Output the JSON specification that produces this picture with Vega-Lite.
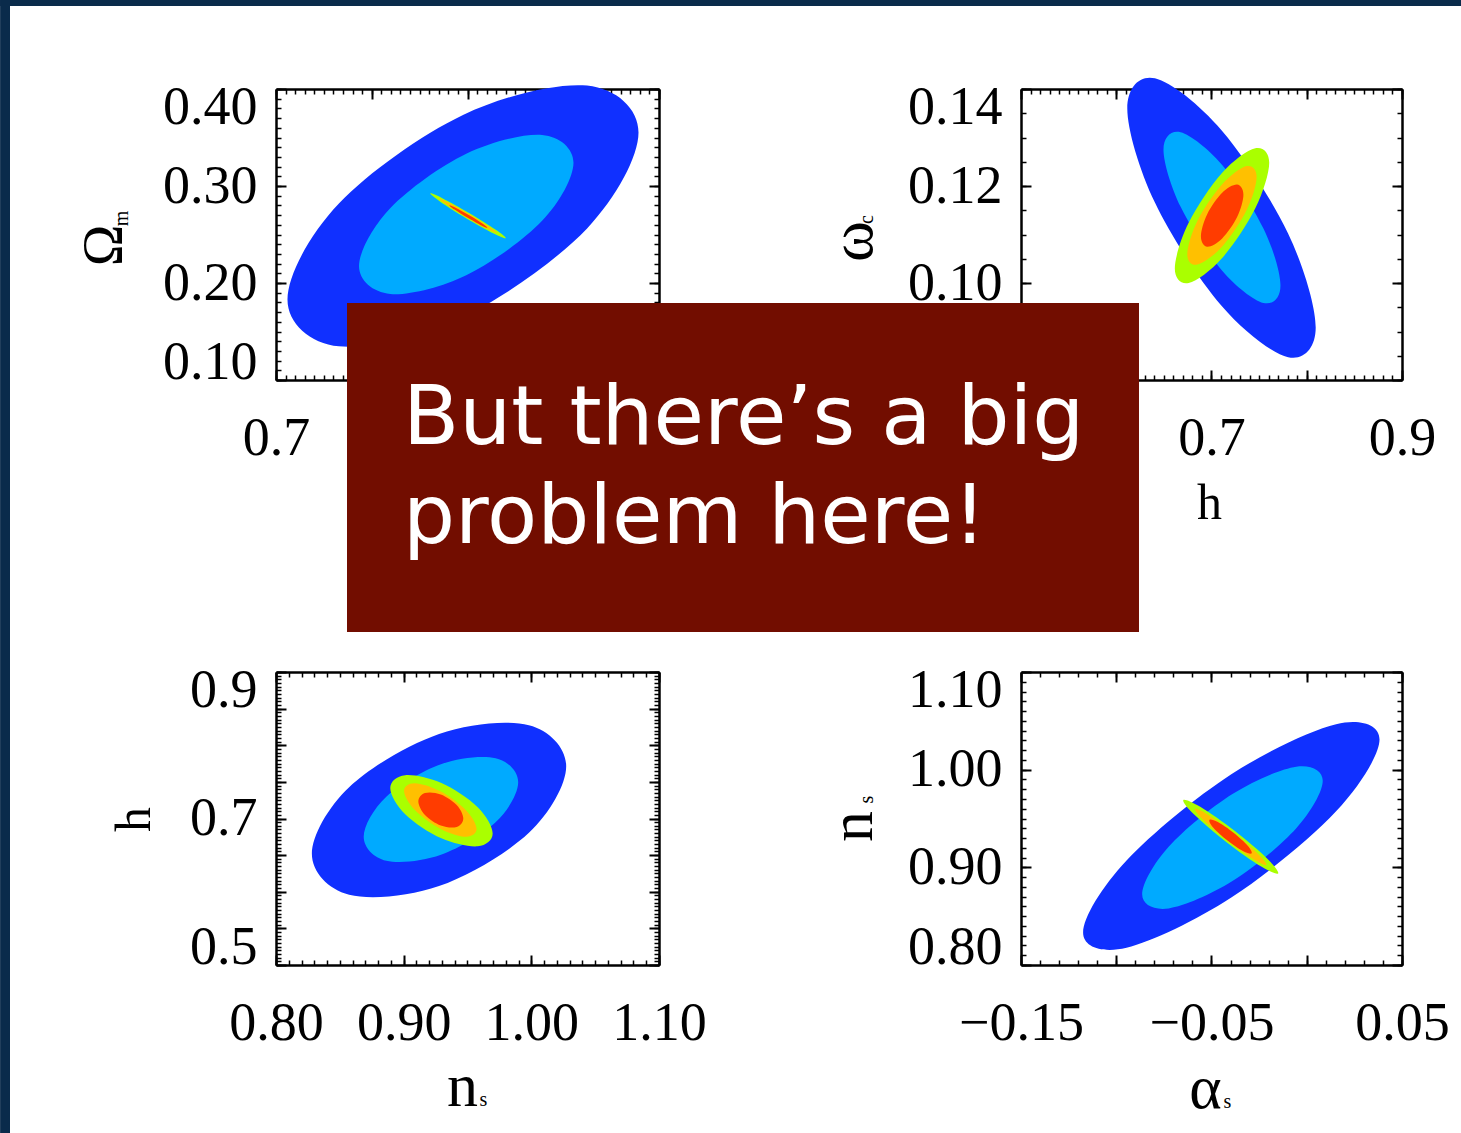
{
  "$schema": "https://vega.github.io/schema/vega-lite/v6.json",
  "padding": 0,
  "background": "white",
  "config": {
    "view": {"stroke": null},
    "axis": {
      "grid": false,
      "labelFont": "Liberation Serif",
      "labelFontSize": 54,
      "labelColor": "#000",
      "labelOverlap": false,
      "labelBound": false,
      "tickColor": "#000",
      "domainColor": "#000",
      "domainWidth": 2.5,
      "titleFont": "Liberation Serif",
      "titleColor": "#000",
      "titleFontWeight": "normal",
      "titlePadding": 0
    }
  },
  "datasets": {
    "tl": [
      {"level":"a","i":0,"x":1.0786,"y":0.3551},{"level":"a","i":1,"x":1.0249,"y":0.4035},{"level":"a","i":2,"x":0.8953,"y":0.3732},{"level":"a","i":3,"x":0.7657,"y":0.2819},
      {"level":"a","i":4,"x":0.7120,"y":0.1831},{"level":"a","i":5,"x":0.7657,"y":0.1347},{"level":"a","i":6,"x":0.8953,"y":0.1650},{"level":"a","i":7,"x":1.0249,"y":0.2563},
      {"level":"b","i":0,"x":1.0107,"y":0.3240},{"level":"b","i":1,"x":0.9779,"y":0.3527},{"level":"b","i":2,"x":0.8987,"y":0.3333},{"level":"b","i":3,"x":0.8195,"y":0.2773},
      {"level":"b","i":4,"x":0.7867,"y":0.2174},{"level":"b","i":5,"x":0.8195,"y":0.1887},{"level":"b","i":6,"x":0.8987,"y":0.2081},{"level":"b","i":7,"x":0.9779,"y":0.2641},
      {"level":"c","i":0,"x":0.9400,"y":0.2462},{"level":"c","i":1,"x":0.9273,"y":0.2511},{"level":"c","i":2,"x":0.8989,"y":0.2666},{"level":"c","i":3,"x":0.8715,"y":0.2838},
      {"level":"c","i":4,"x":0.8610,"y":0.2924},{"level":"c","i":5,"x":0.8737,"y":0.2875},{"level":"c","i":6,"x":0.9021,"y":0.2720},{"level":"c","i":7,"x":0.9296,"y":0.2548},
      {"level":"d","i":0,"x":0.9310,"y":0.2515},{"level":"d","i":1,"x":0.9214,"y":0.2554},{"level":"d","i":2,"x":0.8994,"y":0.2675},{"level":"d","i":3,"x":0.8782,"y":0.2807},
      {"level":"d","i":4,"x":0.8700,"y":0.2871},{"level":"d","i":5,"x":0.8797,"y":0.2832},{"level":"d","i":6,"x":0.9016,"y":0.2711},{"level":"d","i":7,"x":0.9228,"y":0.2579},
      {"level":"e","i":0,"x":0.9208,"y":0.2570},{"level":"e","i":1,"x":0.9144,"y":0.2594},{"level":"e","i":2,"x":0.9002,"y":0.2672},{"level":"e","i":3,"x":0.8865,"y":0.2757},
      {"level":"e","i":4,"x":0.8812,"y":0.2800},{"level":"e","i":5,"x":0.8876,"y":0.2776},{"level":"e","i":6,"x":0.9018,"y":0.2698},{"level":"e","i":7,"x":0.9155,"y":0.2613}
    ],
    "tr": [
      {"level":"a","i":0,"x":0.8094,"y":0.0908},{"level":"a","i":1,"x":0.7804,"y":0.1102},{"level":"a","i":2,"x":0.7105,"y":0.1315},{"level":"a","i":3,"x":0.6406,"y":0.1422},
      {"level":"a","i":4,"x":0.6116,"y":0.1360},{"level":"a","i":5,"x":0.6406,"y":0.1166},{"level":"a","i":6,"x":0.7105,"y":0.0953},{"level":"a","i":7,"x":0.7804,"y":0.0847},
      {"level":"b","i":0,"x":0.7724,"y":0.0995},{"level":"b","i":1,"x":0.7544,"y":0.1113},{"level":"b","i":2,"x":0.7110,"y":0.1244},{"level":"b","i":3,"x":0.6676,"y":0.1311},
      {"level":"b","i":4,"x":0.6496,"y":0.1275},{"level":"b","i":5,"x":0.6676,"y":0.1157},{"level":"b","i":6,"x":0.7110,"y":0.1026},{"level":"b","i":7,"x":0.7544,"y":0.0959},
      {"level":"c","i":0,"x":0.7606,"y":0.1248},{"level":"c","i":1,"x":0.7460,"y":0.1278},{"level":"c","i":2,"x":0.7110,"y":0.1227},{"level":"c","i":3,"x":0.6760,"y":0.1124},
      {"level":"c","i":4,"x":0.6615,"y":0.1030},{"level":"c","i":5,"x":0.6760,"y":0.1000},{"level":"c","i":6,"x":0.7110,"y":0.1051},{"level":"c","i":7,"x":0.7460,"y":0.1154},
      {"level":"d","i":0,"x":0.7474,"y":0.1219},{"level":"d","i":1,"x":0.7368,"y":0.1241},{"level":"d","i":2,"x":0.7110,"y":0.1203},{"level":"d","i":3,"x":0.6852,"y":0.1128},
      {"level":"d","i":4,"x":0.6746,"y":0.1059},{"level":"d","i":5,"x":0.6852,"y":0.1038},{"level":"d","i":6,"x":0.7110,"y":0.1075},{"level":"d","i":7,"x":0.7368,"y":0.1150},
      {"level":"e","i":0,"x":0.7335,"y":0.1182},{"level":"e","i":1,"x":0.7269,"y":0.1203},{"level":"e","i":2,"x":0.7112,"y":0.1186},{"level":"e","i":3,"x":0.6955,"y":0.1142},
      {"level":"e","i":4,"x":0.6889,"y":0.1096},{"level":"e","i":5,"x":0.6955,"y":0.1075},{"level":"e","i":6,"x":0.7112,"y":0.1092},{"level":"e","i":7,"x":0.7269,"y":0.1136}
    ],
    "bl": [
      {"level":"a","i":0,"x":1.0273,"y":0.7714},{"level":"a","i":1,"x":0.9981,"y":0.8274},{"level":"a","i":2,"x":0.9277,"y":0.8155},{"level":"a","i":3,"x":0.8573,"y":0.7428},
      {"level":"a","i":4,"x":0.8281,"y":0.6518},{"level":"a","i":5,"x":0.8573,"y":0.5958},{"level":"a","i":6,"x":0.9277,"y":0.6077},{"level":"a","i":7,"x":0.9981,"y":0.6804},
      {"level":"b","i":0,"x":0.9897,"y":0.7494},{"level":"b","i":1,"x":0.9720,"y":0.7822},{"level":"b","i":2,"x":0.9292,"y":0.7741},{"level":"b","i":3,"x":0.8864,"y":0.7298},
      {"level":"b","i":4,"x":0.8687,"y":0.6752},{"level":"b","i":5,"x":0.8864,"y":0.6424},{"level":"b","i":6,"x":0.9292,"y":0.6505},{"level":"b","i":7,"x":0.9720,"y":0.6948},
      {"level":"c","i":0,"x":0.9697,"y":0.6795},{"level":"c","i":1,"x":0.9580,"y":0.7153},{"level":"c","i":2,"x":0.9296,"y":0.7483},{"level":"c","i":3,"x":0.9012,"y":0.7592},
      {"level":"c","i":4,"x":0.8895,"y":0.7417},{"level":"c","i":5,"x":0.9012,"y":0.7059},{"level":"c","i":6,"x":0.9296,"y":0.6729},{"level":"c","i":7,"x":0.9580,"y":0.6620},
      {"level":"d","i":0,"x":0.9571,"y":0.6855},{"level":"d","i":1,"x":0.9488,"y":0.7112},{"level":"d","i":2,"x":0.9287,"y":0.7371},{"level":"d","i":3,"x":0.9086,"y":0.7481},
      {"level":"d","i":4,"x":0.9003,"y":0.7377},{"level":"d","i":5,"x":0.9086,"y":0.7120},{"level":"d","i":6,"x":0.9287,"y":0.6861},{"level":"d","i":7,"x":0.9488,"y":0.6751},
      {"level":"e","i":0,"x":0.9467,"y":0.7001},{"level":"e","i":1,"x":0.9415,"y":0.7185},{"level":"e","i":2,"x":0.9291,"y":0.7329},{"level":"e","i":3,"x":0.9167,"y":0.7348},
      {"level":"e","i":4,"x":0.9115,"y":0.7231},{"level":"e","i":5,"x":0.9167,"y":0.7047},{"level":"e","i":6,"x":0.9291,"y":0.6903},{"level":"e","i":7,"x":0.9415,"y":0.6884}
    ],
    "br": [
      {"level":"a","i":0,"x":0.0382,"y":1.0309},{"level":"a","i":1,"x":0.0154,"y":1.0466},{"level":"a","i":2,"x":-0.0396,"y":0.9952},{"level":"a","i":3,"x":-0.0946,"y":0.9069},
      {"level":"a","i":4,"x":-0.1174,"y":0.8333},{"level":"a","i":5,"x":-0.0946,"y":0.8176},{"level":"a","i":6,"x":-0.0396,"y":0.8690},{"level":"a","i":7,"x":0.0154,"y":0.9573},
      {"level":"b","i":0,"x":0.0084,"y":0.9886},{"level":"b","i":1,"x":-0.0055,"y":1.0031},{"level":"b","i":2,"x":-0.0390,"y":0.9751},{"level":"b","i":3,"x":-0.0725,"y":0.9210},
      {"level":"b","i":4,"x":-0.0864,"y":0.8724},{"level":"b","i":5,"x":-0.0725,"y":0.8579},{"level":"b","i":6,"x":-0.0390,"y":0.8859},{"level":"b","i":7,"x":-0.0055,"y":0.9400},
      {"level":"c","i":0,"x":-0.0150,"y":0.8938},{"level":"c","i":1,"x":-0.0207,"y":0.9088},{"level":"c","i":2,"x":-0.0377,"y":0.9371},{"level":"c","i":3,"x":-0.0559,"y":0.9620},
      {"level":"c","i":4,"x":-0.0648,"y":0.9690},{"level":"c","i":5,"x":-0.0591,"y":0.9540},{"level":"c","i":6,"x":-0.0421,"y":0.9257},{"level":"c","i":7,"x":-0.0239,"y":0.9008},
      {"level":"d","i":0,"x":-0.0211,"y":0.9024},{"level":"d","i":1,"x":-0.0255,"y":0.9137},{"level":"d","i":2,"x":-0.0383,"y":0.9351},{"level":"d","i":3,"x":-0.0520,"y":0.9542},
      {"level":"d","i":4,"x":-0.0587,"y":0.9598},{"level":"d","i":5,"x":-0.0543,"y":0.9485},{"level":"d","i":6,"x":-0.0415,"y":0.9271},{"level":"d","i":7,"x":-0.0278,"y":0.9080},
      {"level":"e","i":0,"x":-0.0289,"y":0.9143},{"level":"e","i":1,"x":-0.0310,"y":0.9222},{"level":"e","i":2,"x":-0.0384,"y":0.9354},{"level":"e","i":3,"x":-0.0467,"y":0.9463},
      {"level":"e","i":4,"x":-0.0511,"y":0.9485},{"level":"e","i":5,"x":-0.0490,"y":0.9406},{"level":"e","i":6,"x":-0.0416,"y":0.9274},{"level":"e","i":7,"x":-0.0333,"y":0.9165}
    ]
  },
  "columns": 2,
  "bounds": "flush",
  "spacing": {"row": 292, "column": 362},
  "concat": [
    {
      "width": 383, "height": 291,
      "resolve": {"axis": {"x": "independent", "y": "independent"}},
      "layer": [
        {
          "data": {"name": "tl"},
          "mark": {"type": "line", "interpolate": "cardinal-closed", "filled": true, "strokeWidth": 0},
          "encoding": {
            "x": {"field": "x", "type": "quantitative", "scale": {"domain": [0.7, 1.1], "nice": false, "zero": false},
                  "axis": {"orient": "bottom", "values": [0.7], "format": ".1f", "ticks": false, "tickSize": 0, "domain": true, "labelPadding": 74, "labelBaseline": "alphabetic", "labelFlush": false, "title": null}},
            "y": {"field": "y", "type": "quantitative", "scale": {"domain": [0.1, 0.4], "nice": false, "zero": false},
                  "axis": {"orient": "left", "values": [0.1, 0.2, 0.3, 0.4], "format": ".2f", "ticks": false, "tickSize": 0, "domain": true, "labelPadding": 19, "labelFlush": true, "labelFlushOffset": 9,
                           "title": "Ω", "titleFontSize": 56, "titleAngle": 270, "titleAlign": "center", "titleBaseline": "alphabetic", "titleX": -155, "titleY": 156}},
            "color": {"field": "level", "type": "nominal", "scale": {"domain": ["a", "b", "c", "d", "e"], "range": ["#1030ff", "#00aaff", "#aaff00", "#ffc000", "#ff3c00"]}, "legend": null},
            "order": {"field": "i", "type": "quantitative"}
          }
        },
        {
          "data": {"values": [{}]},
          "mark": {"type": "point", "opacity": 0},
          "encoding": {
            "x": {"datum": 0.7, "type": "quantitative", "axis": {"orient": "bottom", "values": [0.7, 0.8, 0.9, 1.0, 1.1], "labels": false, "domain": false, "tickSize": -10, "tickWidth": 2, "title": null}},
            "y": {"datum": 0.1, "type": "quantitative", "axis": {"orient": "left", "values": [0.1, 0.2, 0.3, 0.4], "labels": false, "domain": false, "tickSize": -10, "tickWidth": 2,
                  "title": "m", "titleFontSize": 20, "titleAngle": 270, "titleAlign": "center", "titleBaseline": "alphabetic", "titleX": -149, "titleY": 129}}
          }
        },
        {
          "data": {"values": [{}]},
          "mark": {"type": "point", "opacity": 0},
          "encoding": {
            "x": {"datum": 0.7, "type": "quantitative", "axis": {"orient": "top", "values": [0.7, 0.8, 0.9, 1.0, 1.1], "labels": false, "domain": true, "tickSize": -10, "tickWidth": 2, "title": null}},
            "y": {"datum": 0.1, "type": "quantitative", "axis": {"orient": "right", "values": [0.1, 0.2, 0.3, 0.4], "labels": false, "domain": true, "tickSize": -10, "tickWidth": 2, "title": null}}
          }
        },
        {
          "data": {"values": [{}]},
          "mark": {"type": "point", "opacity": 0},
          "encoding": {
            "x": {"datum": 0.7, "type": "quantitative", "axis": {"orient": "bottom", "tickCount": 40, "labels": false, "domain": false, "tickSize": -5, "tickWidth": 1.5, "title": null}},
            "y": {"datum": 0.1, "type": "quantitative", "axis": {"orient": "left", "tickCount": 30, "labels": false, "domain": false, "tickSize": -5, "tickWidth": 1.5, "title": null}}
          }
        },
        {
          "data": {"values": [{}]},
          "mark": {"type": "point", "opacity": 0},
          "encoding": {
            "x": {"datum": 0.7, "type": "quantitative", "axis": {"orient": "top", "tickCount": 40, "labels": false, "domain": false, "tickSize": -5, "tickWidth": 1.5, "title": null}},
            "y": {"datum": 0.1, "type": "quantitative", "axis": {"orient": "right", "tickCount": 30, "labels": false, "domain": false, "tickSize": -5, "tickWidth": 1.5, "title": null}}
          }
        },
        {
          "data": {"values": [{}]},
          "mark": {"type": "rect", "color": "#0a2b4b"},
          "encoding": {
            "x": {"datum": 0.411854, "type": "quantitative", "axis": null},
            "x2": {"datum": 0.422193},
            "y": {"datum": 0.491649, "type": "quantitative", "axis": null},
            "y2": {"datum": -0.676289}
          }
        },
        {
          "data": {"values": [{}]},
          "mark": {"type": "rect", "color": "#0a2b4b"},
          "encoding": {
            "x": {"datum": 0.411854, "type": "quantitative", "axis": null},
            "x2": {"datum": 1.937598},
            "y": {"datum": 0.491649, "type": "quantitative", "axis": null},
            "y2": {"datum": 0.485567}
          }
        }
      ]
    },
    {
      "width": 381, "height": 291,
      "resolve": {"axis": {"x": "independent", "y": "independent"}},
      "layer": [
        {
          "data": {"name": "tr"},
          "mark": {"type": "line", "interpolate": "cardinal-closed", "filled": true, "strokeWidth": 0},
          "encoding": {
            "x": {"field": "x", "type": "quantitative", "scale": {"domain": [0.5, 0.9], "nice": false, "zero": false},
                  "axis": {"orient": "bottom", "values": [0.7, 0.9], "format": ".1f", "ticks": false, "tickSize": 0, "domain": true, "labelPadding": 74, "labelBaseline": "alphabetic", "labelFlush": false,
                           "title": "h", "titleFontSize": 50, "titleAlign": "center", "titleBaseline": "alphabetic", "titleX": 188, "titleY": 138}},
            "y": {"field": "y", "type": "quantitative", "scale": {"domain": [0.08, 0.14], "nice": false, "zero": false},
                  "axis": {"orient": "left", "values": [0.1, 0.12, 0.14], "format": ".2f", "ticks": false, "tickSize": 0, "domain": true, "labelPadding": 19, "labelFlush": true, "labelFlushOffset": 9,
                           "title": "ω", "titleFontSize": 62, "titleAngle": 270, "titleAlign": "center", "titleBaseline": "alphabetic", "titleX": -150, "titleY": 152}},
            "color": {"field": "level", "type": "nominal", "scale": {"domain": ["a", "b", "c", "d", "e"], "range": ["#1030ff", "#00aaff", "#aaff00", "#ffc000", "#ff3c00"]}, "legend": null},
            "order": {"field": "i", "type": "quantitative"}
          }
        },
        {
          "data": {"values": [{}]},
          "mark": {"type": "point", "opacity": 0},
          "encoding": {
            "x": {"datum": 0.5, "type": "quantitative", "axis": {"orient": "bottom", "values": [0.5, 0.6, 0.7, 0.8, 0.9], "labels": false, "domain": false, "tickSize": -10, "tickWidth": 2, "title": null}},
            "y": {"datum": 0.08, "type": "quantitative", "axis": {"orient": "left", "values": [0.08, 0.1, 0.12, 0.14], "labels": false, "domain": false, "tickSize": -10, "tickWidth": 2,
                  "title": "c", "titleFontSize": 20, "titleAngle": 270, "titleAlign": "center", "titleBaseline": "alphabetic", "titleX": -149, "titleY": 130}}
          }
        },
        {
          "data": {"values": [{}]},
          "mark": {"type": "point", "opacity": 0},
          "encoding": {
            "x": {"datum": 0.5, "type": "quantitative", "axis": {"orient": "top", "values": [0.5, 0.6, 0.7, 0.8, 0.9], "labels": false, "domain": true, "tickSize": -10, "tickWidth": 2, "title": null}},
            "y": {"datum": 0.08, "type": "quantitative", "axis": {"orient": "right", "values": [0.08, 0.1, 0.12, 0.14], "labels": false, "domain": true, "tickSize": -10, "tickWidth": 2, "title": null}}
          }
        },
        {
          "data": {"values": [{}]},
          "mark": {"type": "point", "opacity": 0},
          "encoding": {
            "x": {"datum": 0.5, "type": "quantitative", "axis": {"orient": "bottom", "tickCount": 40, "labels": false, "domain": false, "tickSize": -5, "tickWidth": 1.5, "title": null}},
            "y": {"datum": 0.08, "type": "quantitative", "axis": {"orient": "left", "tickCount": 12, "labels": false, "domain": false, "tickSize": -5, "tickWidth": 1.5, "title": null}}
          }
        },
        {
          "data": {"values": [{}]},
          "mark": {"type": "point", "opacity": 0},
          "encoding": {
            "x": {"datum": 0.5, "type": "quantitative", "axis": {"orient": "top", "tickCount": 40, "labels": false, "domain": false, "tickSize": -5, "tickWidth": 1.5, "title": null}},
            "y": {"datum": 0.08, "type": "quantitative", "axis": {"orient": "right", "tickCount": 12, "labels": false, "domain": false, "tickSize": -5, "tickWidth": 1.5, "title": null}}
          }
        },
        {
          "data": {"values": [{}]},
          "mark": {"type": "rect", "color": "#720d00"},
          "encoding": {
            "x": {"datum": -0.20761, "type": "quantitative", "axis": null},
            "x2": {"datum": 0.62388},
            "y": {"datum": 0.095876, "type": "quantitative", "axis": null},
            "y2": {"datum": 0.028041}
          }
        },
        {
          "data": {"values": [{"msg": "But there’s a big\nproblem here!"}]},
          "mark": {"type": "text", "font": "DejaVu Sans", "fontSize": 82, "color": "white", "align": "left", "baseline": "alphabetic", "lineBreak": "\n", "lineHeight": 99},
          "encoding": {
            "x": {"datum": -0.14882, "type": "quantitative", "axis": null},
            "y": {"datum": 0.066804, "type": "quantitative", "axis": null},
            "text": {"field": "msg", "type": "nominal"}
          }
        }
      ]
    },
    {
      "width": 383, "height": 293,
      "resolve": {"axis": {"x": "independent", "y": "independent"}},
      "layer": [
        {
          "data": {"name": "bl"},
          "mark": {"type": "line", "interpolate": "cardinal-closed", "filled": true, "strokeWidth": 0},
          "encoding": {
            "x": {"field": "x", "type": "quantitative", "scale": {"domain": [0.8, 1.1], "nice": false, "zero": false},
                  "axis": {"orient": "bottom", "values": [0.8, 0.9, 1.0, 1.1], "format": ".2f", "ticks": false, "tickSize": 0, "domain": true, "labelPadding": 74, "labelBaseline": "alphabetic", "labelFlush": false,
                           "title": "n", "titleFontSize": 62, "titleAlign": "center", "titleBaseline": "alphabetic", "titleX": 186, "titleY": 140}},
            "y": {"field": "y", "type": "quantitative", "scale": {"domain": [0.5, 0.9], "nice": false, "zero": false},
                  "axis": {"orient": "left", "values": [0.5, 0.7, 0.9], "format": ".1f", "ticks": false, "tickSize": 0, "domain": true, "labelPadding": 19, "labelFlush": true, "labelFlushOffset": 9,
                           "title": "h", "titleFontSize": 50, "titleAngle": 270, "titleAlign": "center", "titleBaseline": "alphabetic", "titleX": -127, "titleY": 147}},
            "color": {"field": "level", "type": "nominal", "scale": {"domain": ["a", "b", "c", "d", "e"], "range": ["#1030ff", "#00aaff", "#aaff00", "#ffc000", "#ff3c00"]}, "legend": null},
            "order": {"field": "i", "type": "quantitative"}
          }
        },
        {
          "data": {"values": [{}]},
          "mark": {"type": "point", "opacity": 0},
          "encoding": {
            "x": {"datum": 0.8, "type": "quantitative", "axis": {"orient": "bottom", "values": [0.8, 0.9, 1.0, 1.1], "labels": false, "domain": false, "tickSize": -10, "tickWidth": 2,
                  "title": "s", "titleFontSize": 20, "titleAlign": "center", "titleBaseline": "alphabetic", "titleX": 207, "titleY": 140}},
            "y": {"datum": 0.5, "type": "quantitative", "axis": {"orient": "left", "values": [0.5, 0.55, 0.6, 0.65, 0.7, 0.75, 0.8, 0.85, 0.9], "labels": false, "domain": false, "tickSize": -10, "tickWidth": 2, "title": null}}
          }
        },
        {
          "data": {"values": [{}]},
          "mark": {"type": "point", "opacity": 0},
          "encoding": {
            "x": {"datum": 0.8, "type": "quantitative", "axis": {"orient": "top", "values": [0.8, 0.9, 1.0, 1.1], "labels": false, "domain": true, "tickSize": -10, "tickWidth": 2, "title": null}},
            "y": {"datum": 0.5, "type": "quantitative", "axis": {"orient": "right", "values": [0.5, 0.55, 0.6, 0.65, 0.7, 0.75, 0.8, 0.85, 0.9], "labels": false, "domain": true, "tickSize": -10, "tickWidth": 2, "title": null}}
          }
        },
        {
          "data": {"values": [{}]},
          "mark": {"type": "point", "opacity": 0},
          "encoding": {
            "x": {"datum": 0.8, "type": "quantitative", "axis": {"orient": "bottom", "tickCount": 30, "labels": false, "domain": false, "tickSize": -5, "tickWidth": 1.5, "title": null}},
            "y": {"datum": 0.5, "type": "quantitative", "axis": {"orient": "left", "tickCount": 80, "labels": false, "domain": false, "tickSize": -5, "tickWidth": 1.5, "title": null}}
          }
        },
        {
          "data": {"values": [{}]},
          "mark": {"type": "point", "opacity": 0},
          "encoding": {
            "x": {"datum": 0.8, "type": "quantitative", "axis": {"orient": "top", "tickCount": 30, "labels": false, "domain": false, "tickSize": -5, "tickWidth": 1.5, "title": null}},
            "y": {"datum": 0.5, "type": "quantitative", "axis": {"orient": "right", "tickCount": 80, "labels": false, "domain": false, "tickSize": -5, "tickWidth": 1.5, "title": null}}
          }
        }
      ]
    },
    {
      "width": 381, "height": 293,
      "resolve": {"axis": {"x": "independent", "y": "independent"}},
      "layer": [
        {
          "data": {"name": "br"},
          "mark": {"type": "line", "interpolate": "cardinal-closed", "filled": true, "strokeWidth": 0},
          "encoding": {
            "x": {"field": "x", "type": "quantitative", "scale": {"domain": [-0.15, 0.05], "nice": false, "zero": false},
                  "axis": {"orient": "bottom", "values": [-0.15, -0.05, 0.05], "format": ".2f", "ticks": false, "tickSize": 0, "domain": true, "labelPadding": 74, "labelBaseline": "alphabetic", "labelFlush": false,
                           "title": "α", "titleFontSize": 62, "titleAlign": "center", "titleBaseline": "alphabetic", "titleX": 184, "titleY": 142}},
            "y": {"field": "y", "type": "quantitative", "scale": {"domain": [0.8, 1.1], "nice": false, "zero": false},
                  "axis": {"orient": "left", "values": [0.8, 0.9, 1.0, 1.1], "format": ".2f", "ticks": false, "tickSize": 0, "domain": true, "labelPadding": 19, "labelFlush": true, "labelFlushOffset": 9,
                           "title": "n", "titleFontSize": 62, "titleAngle": 270, "titleAlign": "center", "titleBaseline": "alphabetic", "titleX": -150, "titleY": 154}},
            "color": {"field": "level", "type": "nominal", "scale": {"domain": ["a", "b", "c", "d", "e"], "range": ["#1030ff", "#00aaff", "#aaff00", "#ffc000", "#ff3c00"]}, "legend": null},
            "order": {"field": "i", "type": "quantitative"}
          }
        },
        {
          "data": {"values": [{}]},
          "mark": {"type": "point", "opacity": 0},
          "encoding": {
            "x": {"datum": -0.15, "type": "quantitative", "axis": {"orient": "bottom", "values": [-0.15, -0.1, -0.05, 0, 0.05], "labels": false, "domain": false, "tickSize": -10, "tickWidth": 2,
                  "title": "s", "titleFontSize": 20, "titleAlign": "center", "titleBaseline": "alphabetic", "titleX": 206, "titleY": 142}},
            "y": {"datum": 0.8, "type": "quantitative", "axis": {"orient": "left", "values": [0.8, 0.9, 1.0, 1.1], "labels": false, "domain": false, "tickSize": -10, "tickWidth": 2,
                  "title": "s", "titleFontSize": 20, "titleAngle": 270, "titleAlign": "center", "titleBaseline": "alphabetic", "titleX": -149, "titleY": 127}}
          }
        },
        {
          "data": {"values": [{}]},
          "mark": {"type": "point", "opacity": 0},
          "encoding": {
            "x": {"datum": -0.15, "type": "quantitative", "axis": {"orient": "top", "values": [-0.15, -0.1, -0.05, 0, 0.05], "labels": false, "domain": true, "tickSize": -10, "tickWidth": 2, "title": null}},
            "y": {"datum": 0.8, "type": "quantitative", "axis": {"orient": "right", "values": [0.8, 0.9, 1.0, 1.1], "labels": false, "domain": true, "tickSize": -10, "tickWidth": 2, "title": null}}
          }
        },
        {
          "data": {"values": [{}]},
          "mark": {"type": "point", "opacity": 0},
          "encoding": {
            "x": {"datum": -0.15, "type": "quantitative", "axis": {"orient": "bottom", "tickCount": 20, "labels": false, "domain": false, "tickSize": -5, "tickWidth": 1.5, "title": null}},
            "y": {"datum": 0.8, "type": "quantitative", "axis": {"orient": "left", "tickCount": 30, "labels": false, "domain": false, "tickSize": -5, "tickWidth": 1.5, "title": null}}
          }
        },
        {
          "data": {"values": [{}]},
          "mark": {"type": "point", "opacity": 0},
          "encoding": {
            "x": {"datum": -0.15, "type": "quantitative", "axis": {"orient": "top", "tickCount": 20, "labels": false, "domain": false, "tickSize": -5, "tickWidth": 1.5, "title": null}},
            "y": {"datum": 0.8, "type": "quantitative", "axis": {"orient": "right", "tickCount": 30, "labels": false, "domain": false, "tickSize": -5, "tickWidth": 1.5, "title": null}}
          }
        }
      ]
    }
  ]
}
